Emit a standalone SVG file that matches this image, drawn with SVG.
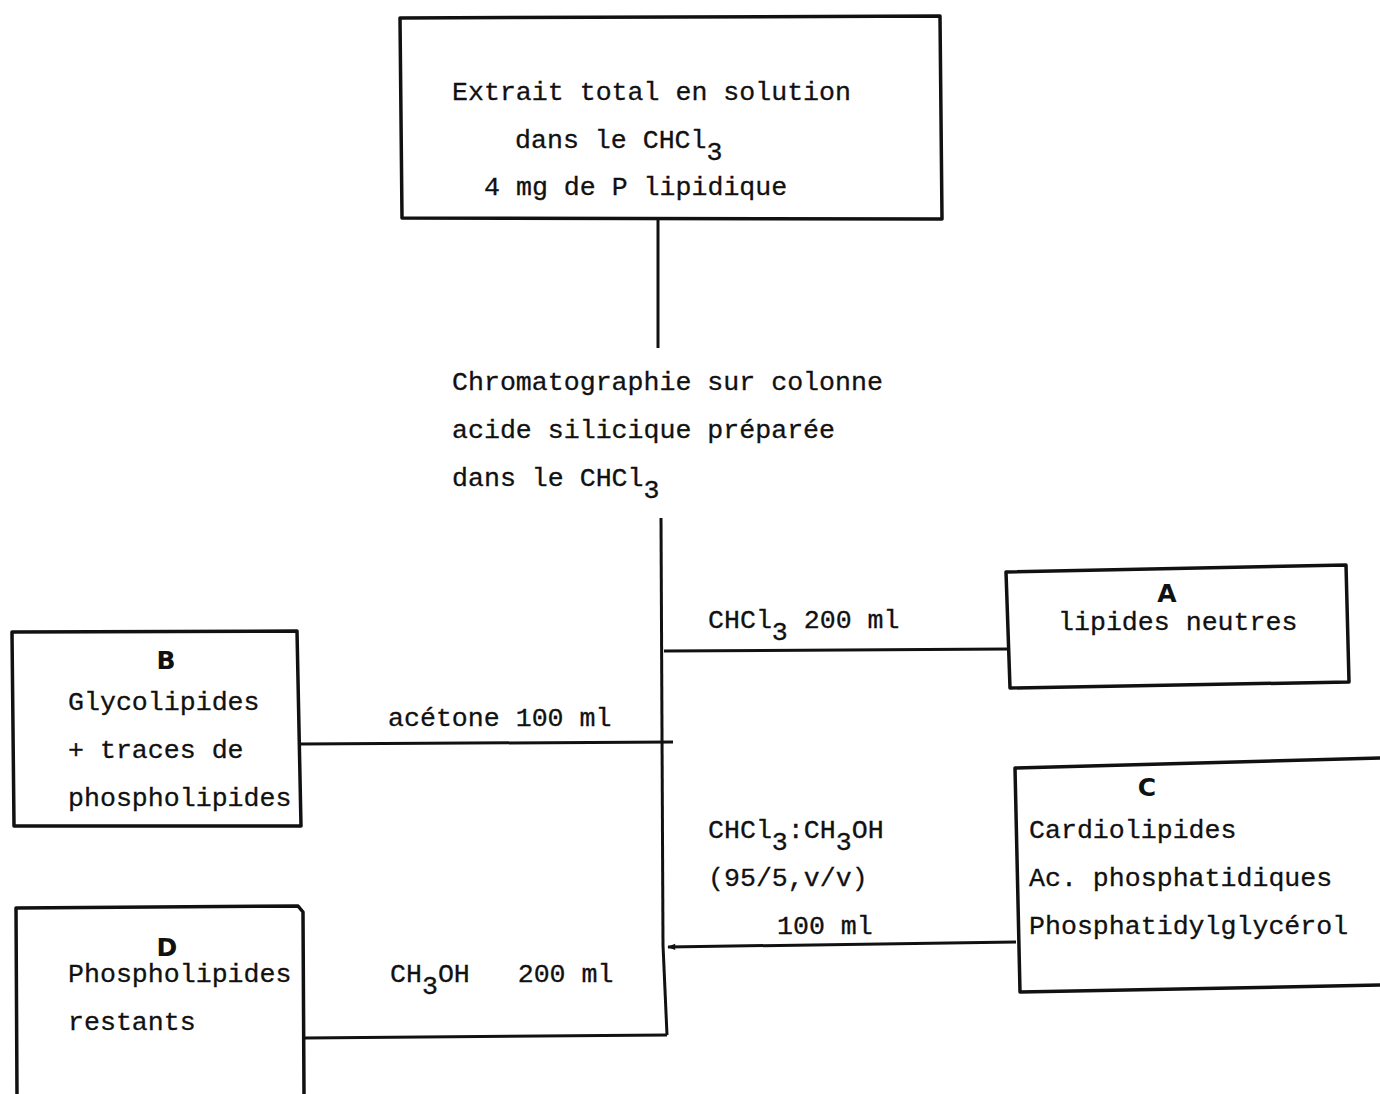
<svg xmlns="http://www.w3.org/2000/svg" width="1380" height="1094" viewBox="0 0 1380 1094">
  <style>
    .box { fill: none; stroke: #111; stroke-width: 3.5; stroke-linejoin: round; }
    .wire { fill: none; stroke: #111; stroke-width: 3; }
    .tt { font-family: "Liberation Mono", "DejaVu Sans Mono", monospace; font-size: 26.6px; fill: #111; stroke: #111; stroke-width: 0.3; white-space: pre; }
    .key { font-family: "DejaVu Sans", "Liberation Sans", sans-serif; font-size: 25px; font-weight: bold; fill: #111; text-anchor: middle; }
  </style>
  <defs>
    <marker id="tip" viewBox="0 0 10 10" refX="9" refY="5" markerWidth="10" markerHeight="8" orient="auto" markerUnits="userSpaceOnUse">
      <path d="M0,1 L10,5 L0,9 Z" fill="#111"/>
    </marker>
  </defs>

  <rect width="1380" height="1094" fill="#fff"/>

  <!-- connectors -->
  <g id="connectors">
    <line class="wire" x1="658" y1="220" x2="658" y2="348" stroke-width="3.5"/>
    <line class="wire" x1="661" y1="518" x2="663" y2="945" stroke-width="4"/>
    <line class="wire" x1="663" y1="945" x2="667" y2="1035"/>
    <!-- to A -->
    <line class="wire" x1="664" y1="651" x2="1008" y2="649" stroke-width="3.5"/>
    <!-- to B -->
    <line class="wire" x1="300" y1="744" x2="673" y2="742"/>
    <!-- from C (arrow into column) -->
    <line class="wire" x1="1016" y1="942" x2="668" y2="947" marker-end="url(#tip)"/>
    <!-- to D -->
    <line class="wire" x1="305" y1="1038" x2="667" y2="1035"/>
  </g>

  <!-- solvent labels -->
  <g id="labels">
    <text class="tt" x="708" y="628">CHCl<tspan dy="12">3</tspan><tspan dy="-12"> 200 ml</tspan></text>
    <text class="tt" x="388" y="726">acétone 100 ml</text>
    <text class="tt" x="708" y="838">CHCl<tspan dy="12">3</tspan><tspan dy="-12">:CH</tspan><tspan dy="12">3</tspan><tspan dy="-12">OH</tspan></text>
    <text class="tt" x="708" y="886">(95/5,v/v)</text>
    <text class="tt" x="777" y="934">100 ml</text>
    <text class="tt" x="390" y="982">CH<tspan dy="12">3</tspan><tspan dy="-12">OH   200 ml</tspan></text>
  </g>

  <!-- starting extract -->
  <g id="extrait">
    <polygon class="box" points="400,18 940,16 942,219 402,218"/>
    <text class="tt" x="452" y="100">Extrait total en solution</text>
    <text class="tt" x="515" y="148">dans le CHCl<tspan dy="12">3</tspan></text>
    <text class="tt" x="484" y="195">4 mg de P lipidique</text>
  </g>

  <!-- column step -->
  <g id="colonne">
    <text class="tt" x="452" y="390">Chromatographie sur colonne</text>
    <text class="tt" x="452" y="438">acide silicique préparée</text>
    <text class="tt" x="452" y="486">dans le CHCl<tspan dy="12">3</tspan></text>
  </g>

  <!-- fraction A -->
  <g id="fraction-a">
    <polygon class="box" points="1006,572 1346,565 1349,682 1010,688"/>
    <text class="key" x="1167" y="602">A</text>
    <text class="tt" x="1058" y="630">lipides neutres</text>
  </g>

  <!-- fraction B -->
  <g id="fraction-b">
    <polygon class="box" points="12,632 297,631 301,826 14,826"/>
    <text class="key" x="166" y="669">B</text>
    <text class="tt" x="68" y="710">Glycolipides</text>
    <text class="tt" x="68" y="758">+ traces de</text>
    <text class="tt" x="68" y="806">phospholipides</text>
  </g>

  <!-- fraction C -->
  <g id="fraction-c">
    <polyline class="box" points="1382,758 1015,768 1020,992 1382,985"/>
    <text class="key" x="1147" y="796">C</text>
    <text class="tt" x="1029" y="838">Cardiolipides</text>
    <text class="tt" x="1029" y="886">Ac. phosphatidiques</text>
    <text class="tt" x="1029" y="934">Phosphatidylglycérol</text>
  </g>

  <!-- fraction D -->
  <g id="fraction-d">
    <polyline class="box" points="17,1096 16,908 298,906 303,912 304,1096"/>
    <text class="key" x="167" y="956">D</text>
    <text class="tt" x="68" y="982">Phospholipides</text>
    <text class="tt" x="68" y="1030">restants</text>
  </g>
</svg>
